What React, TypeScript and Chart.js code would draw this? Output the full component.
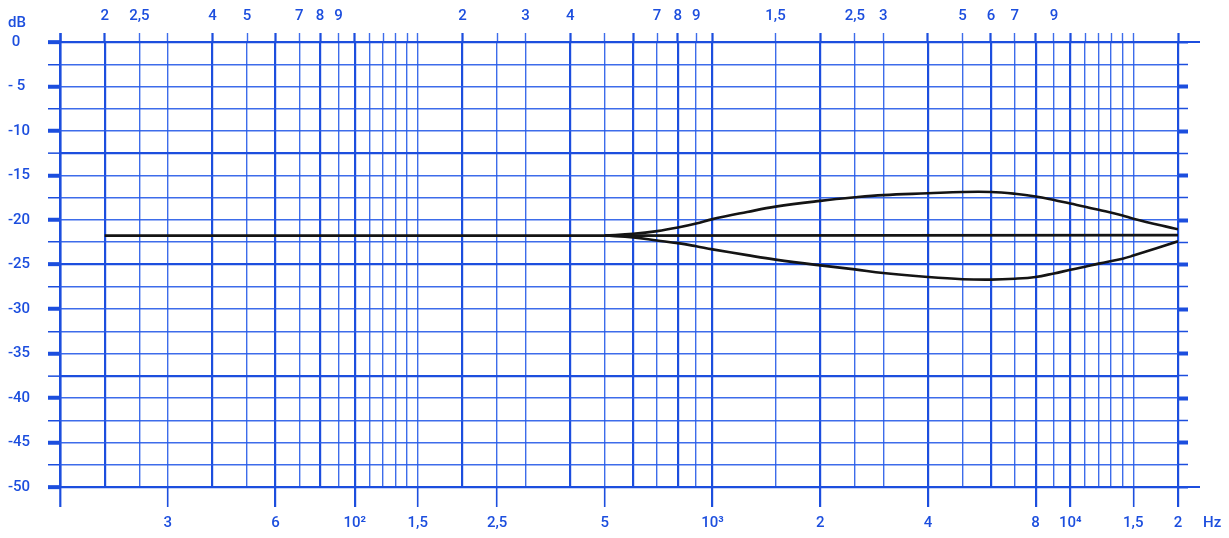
import React, { useEffect, useRef } from "react";
import { Chart, registerables } from "chart.js";

Chart.register(...registerables);

// ---- grid / axis data ----
const X_MIN = 15;
const X_MAX = 20000;
const GRID_FREQS = [
  15, 20, 25, 30, 40, 50, 60, 70, 80, 90, 100, 110, 120, 130, 140, 150, 200, 250, 300, 400, 500,
  600, 700, 800, 900, 1000, 1500, 2000, 2500, 3000, 4000, 5000, 6000, 7000, 8000, 9000, 10000,
  11000, 12000, 13000, 14000, 15000, 20000,
];
const THICK_FREQS = [15, 20, 40, 60, 80, 100, 200, 400, 600, 800, 1000, 2000, 4000, 6000, 8000, 10000, 20000];
const TOP_LABEL_FREQS = [20, 25, 40, 50, 70, 80, 90, 200, 300, 400, 700, 800, 900, 1500, 2500, 3000, 5000, 6000, 7000, 9000];
const TOP_LABELS = ["2", "2,5", "4", "5", "7", "8", "9", "2", "3", "4", "7", "8", "9", "1,5", "2,5", "3", "5", "6", "7", "9"];
const BOTTOM_LABEL_FREQS = [30, 60, 100, 150, 250, 500, 1000, 2000, 4000, 8000, 10000, 15000, 20000];
const BOTTOM_LABELS = ["3", "6", "10²", "1,5", "2,5", "5", "10³", "2", "4", "8", "10⁴", "1,5", "2"];
const BOTTOM_TICK_FREQS = [15, ...BOTTOM_LABEL_FREQS];

const DB_TICKS = [0, -2.5, -5, -7.5, -10, -12.5, -15, -17.5, -20, -22.5, -25, -27.5, -30, -32.5, -35, -37.5, -40, -42.5, -45, -47.5, -50];
const DB_LABEL_VALUES = [0, -5, -10, -15, -20, -25, -30, -35, -40, -45, -50];
const DB_LABELS = [" 0", "- 5", "-10", "-15", "-20", "-25", "-30", "-35", "-40", "-45", "-50"];
const DB_THICK = [0, -12.5, -25, -37.5, -50];

// ---- curve data ----
const FLAT_FREQ = [20, 500, 20000];
const FLAT_DB = [-21.75, -21.75, -21.7];

const BRANCH_FREQ = [500, 600, 700, 800, 900, 1000, 1250, 1500, 2000, 2500, 3000, 4000, 5000, 6000, 7000, 8000, 9000, 10000, 11000, 12000, 14000, 15000, 20000];
const UPPER_DB = [-21.75, -21.55, -21.25, -20.85, -20.4, -19.9, -19.1, -18.5, -17.85, -17.45, -17.2, -17.0, -16.85, -16.85, -17.05, -17.35, -17.75, -18.15, -18.5, -18.85, -19.5, -19.85, -21.05];
const LOWER_DB = [-21.75, -21.95, -22.3, -22.6, -22.95, -23.3, -23.95, -24.45, -25.1, -25.55, -25.95, -26.4, -26.65, -26.7, -26.6, -26.4, -26.0, -25.6, -25.25, -24.9, -24.35, -24.0, -22.4];

const BLUE = "rgb(28, 78, 222)";
const BLUE_THIN = "rgba(40, 92, 232, 0.9)";
const FONT = { family: "Roboto, 'DejaVu Sans', sans-serif", size: 15, weight: 500 as any };

const toPoints = (xs: number[], ys: number[]) => xs.map((x, i) => ({ x, y: ys[i] }));

const labelFor = (freqs: number[], labels: string[]) => (v: number) => {
  const i = freqs.findIndex((f) => Math.abs(f - v) < 1e-6);
  return i >= 0 ? labels[i] : "";
};

export default function App() {
  const ref = useRef<HTMLCanvasElement | null>(null);

  useEffect(() => {
    if (!ref.current) return;
    const topLabel = labelFor(TOP_LABEL_FREQS, TOP_LABELS);
    const bottomLabel = labelFor(BOTTOM_LABEL_FREQS, BOTTOM_LABELS);
    const dbLabel = labelFor(DB_LABEL_VALUES, DB_LABELS);
    const isThickF = (v: number) => THICK_FREQS.includes(v);
    const isThickDb = (v: number) => DB_THICK.includes(v);
    const isMult5 = (v: number) => Math.abs(v % 5) < 1e-6;

    const extrasPlugin = {
      id: "extras",
      afterDraw(chart: any) {
        const ctx = chart.ctx;
        const yR = chart.scales.yR;
        const y = chart.scales.y;
        ctx.save();
        ctx.strokeStyle = BLUE;
        ctx.lineWidth = 2;
        [0, -50].forEach((v) => {
          const py = y.getPixelForValue(v);
          ctx.beginPath();
          ctx.moveTo(chart.chartArea.right, py);
          ctx.lineTo(yR.left + 22, py);
          ctx.stroke();
        });
        ctx.fillStyle = BLUE;
        ctx.font = `${FONT.weight} ${FONT.size}px ${FONT.family}`;
        ctx.textBaseline = "middle";
        ctx.textAlign = "left";
        ctx.fillText("dB", 8, y.getPixelForValue(0) - 19);
        const xs = chart.scales.x;
        ctx.fillText("Hz", xs.getPixelForValue(X_MAX) + 25, xs.top + 36);
        ctx.restore();
      },
    };

    const lineStyle = { borderColor: "#141414", borderWidth: 2.6, pointRadius: 0 };

    const chart = new Chart(ref.current, {
      type: "line",
      data: {
        datasets: [
          { data: toPoints(FLAT_FREQ, FLAT_DB), ...lineStyle, tension: 0 },
          { data: toPoints(BRANCH_FREQ, UPPER_DB), ...lineStyle, tension: 0.4 },
          { data: toPoints(BRANCH_FREQ, LOWER_DB), ...lineStyle, tension: 0.4 },
        ],
      },
      options: {
        responsive: false,
        animation: false,
        devicePixelRatio: 1,
        layout: { padding: { left: 8, top: 0, right: 0, bottom: 0 } },
        plugins: { legend: { display: false }, tooltip: { enabled: false } },
        scales: {
          x: {
            type: "logarithmic",
            position: "bottom",
            min: X_MIN,
            max: X_MAX,
            afterBuildTicks: (s: any) => {
              s.ticks = GRID_FREQS.map((v) => ({ value: v }));
            },
            afterFit: (s: any) => {
              s.height = 51;
            },
            border: { display: false },
            grid: {
              drawOnChartArea: true,
              tickLength: 20,
              color: (c: any) => (isThickF(c.tick?.value) ? BLUE : BLUE_THIN),
              lineWidth: (c: any) => (c.tick?.value === X_MIN ? 2.6 : isThickF(c.tick?.value) ? 2.2 : 1.4),
              tickColor: (c: any) => (BOTTOM_TICK_FREQS.includes(c.tick?.value) ? BLUE : "rgba(0,0,0,0)"),
              tickWidth: (c: any) => (isThickF(c.tick?.value) ? 2.2 : 1.6),
            },
            ticks: {
              autoSkip: false,
              maxRotation: 0,
              minRotation: 0,
              padding: 7,
              color: BLUE,
              font: FONT,
              callback: (v: any) => bottomLabel(Number(v)),
            },
          },
          x2: {
            type: "logarithmic",
            position: "top",
            min: X_MIN,
            max: X_MAX,
            afterBuildTicks: (s: any) => {
              s.ticks = GRID_FREQS.map((v) => ({ value: v }));
            },
            afterFit: (s: any) => {
              s.height = 42;
            },
            border: { display: false },
            grid: {
              drawOnChartArea: false,
              tickLength: 9,
              tickColor: (c: any) => (isThickF(c.tick?.value) ? BLUE : BLUE_THIN),
              tickWidth: (c: any) => (c.tick?.value === X_MIN ? 2.6 : isThickF(c.tick?.value) ? 2.2 : 1.4),
            },
            ticks: {
              autoSkip: false,
              maxRotation: 0,
              minRotation: 0,
              padding: 8,
              color: BLUE,
              font: FONT,
              callback: (v: any) => topLabel(Number(v)),
            },
          },
          y: {
            type: "linear",
            position: "left",
            min: -50,
            max: 0,
            afterBuildTicks: (s: any) => {
              s.ticks = DB_TICKS.map((v) => ({ value: v }));
            },
            afterFit: (s: any) => {
              s.width = 52;
            },
            border: { display: false },
            grid: {
              drawOnChartArea: true,
              tickLength: 12,
              color: (c: any) => (isThickDb(c.tick?.value) ? BLUE : BLUE_THIN),
              lineWidth: (c: any) => (isThickDb(c.tick?.value) ? 2.3 : 1.5),
              tickColor: BLUE,
              tickWidth: (c: any) => (isMult5(c.tick?.value) ? 4 : 1.5),
            },
            ticks: {
              crossAlign: "far",
              padding: 10,
              color: BLUE,
              font: FONT,
              callback: (v: any) => dbLabel(Number(v)),
            },
          },
          yR: {
            type: "linear",
            position: "right",
            min: -50,
            max: 0,
            afterBuildTicks: (s: any) => {
              s.ticks = DB_TICKS.map((v) => ({ value: v }));
            },
            afterFit: (s: any) => {
              s.width = 51;
            },
            border: { display: false },
            grid: {
              drawOnChartArea: false,
              tickLength: 10,
              tickColor: BLUE,
              tickWidth: (c: any) => {
                const v = c.tick?.value;
                if (v === 0 || v === -50) return 2;
                return isMult5(v) ? 4 : 1.5;
              },
            },
            ticks: { display: true, callback: () => "" },
          },
        },
      },
      plugins: [extrasPlugin],
    } as any);

    return () => chart.destroy();
  }, []);

  return (
    <div style={{ position: "fixed", left: 0, top: 0, width: 1229, height: 538, background: "#fff" }}>
      <canvas ref={ref} width={1229} height={538} style={{ display: "block", width: 1229, height: 538 }} />
    </div>
  );
}
